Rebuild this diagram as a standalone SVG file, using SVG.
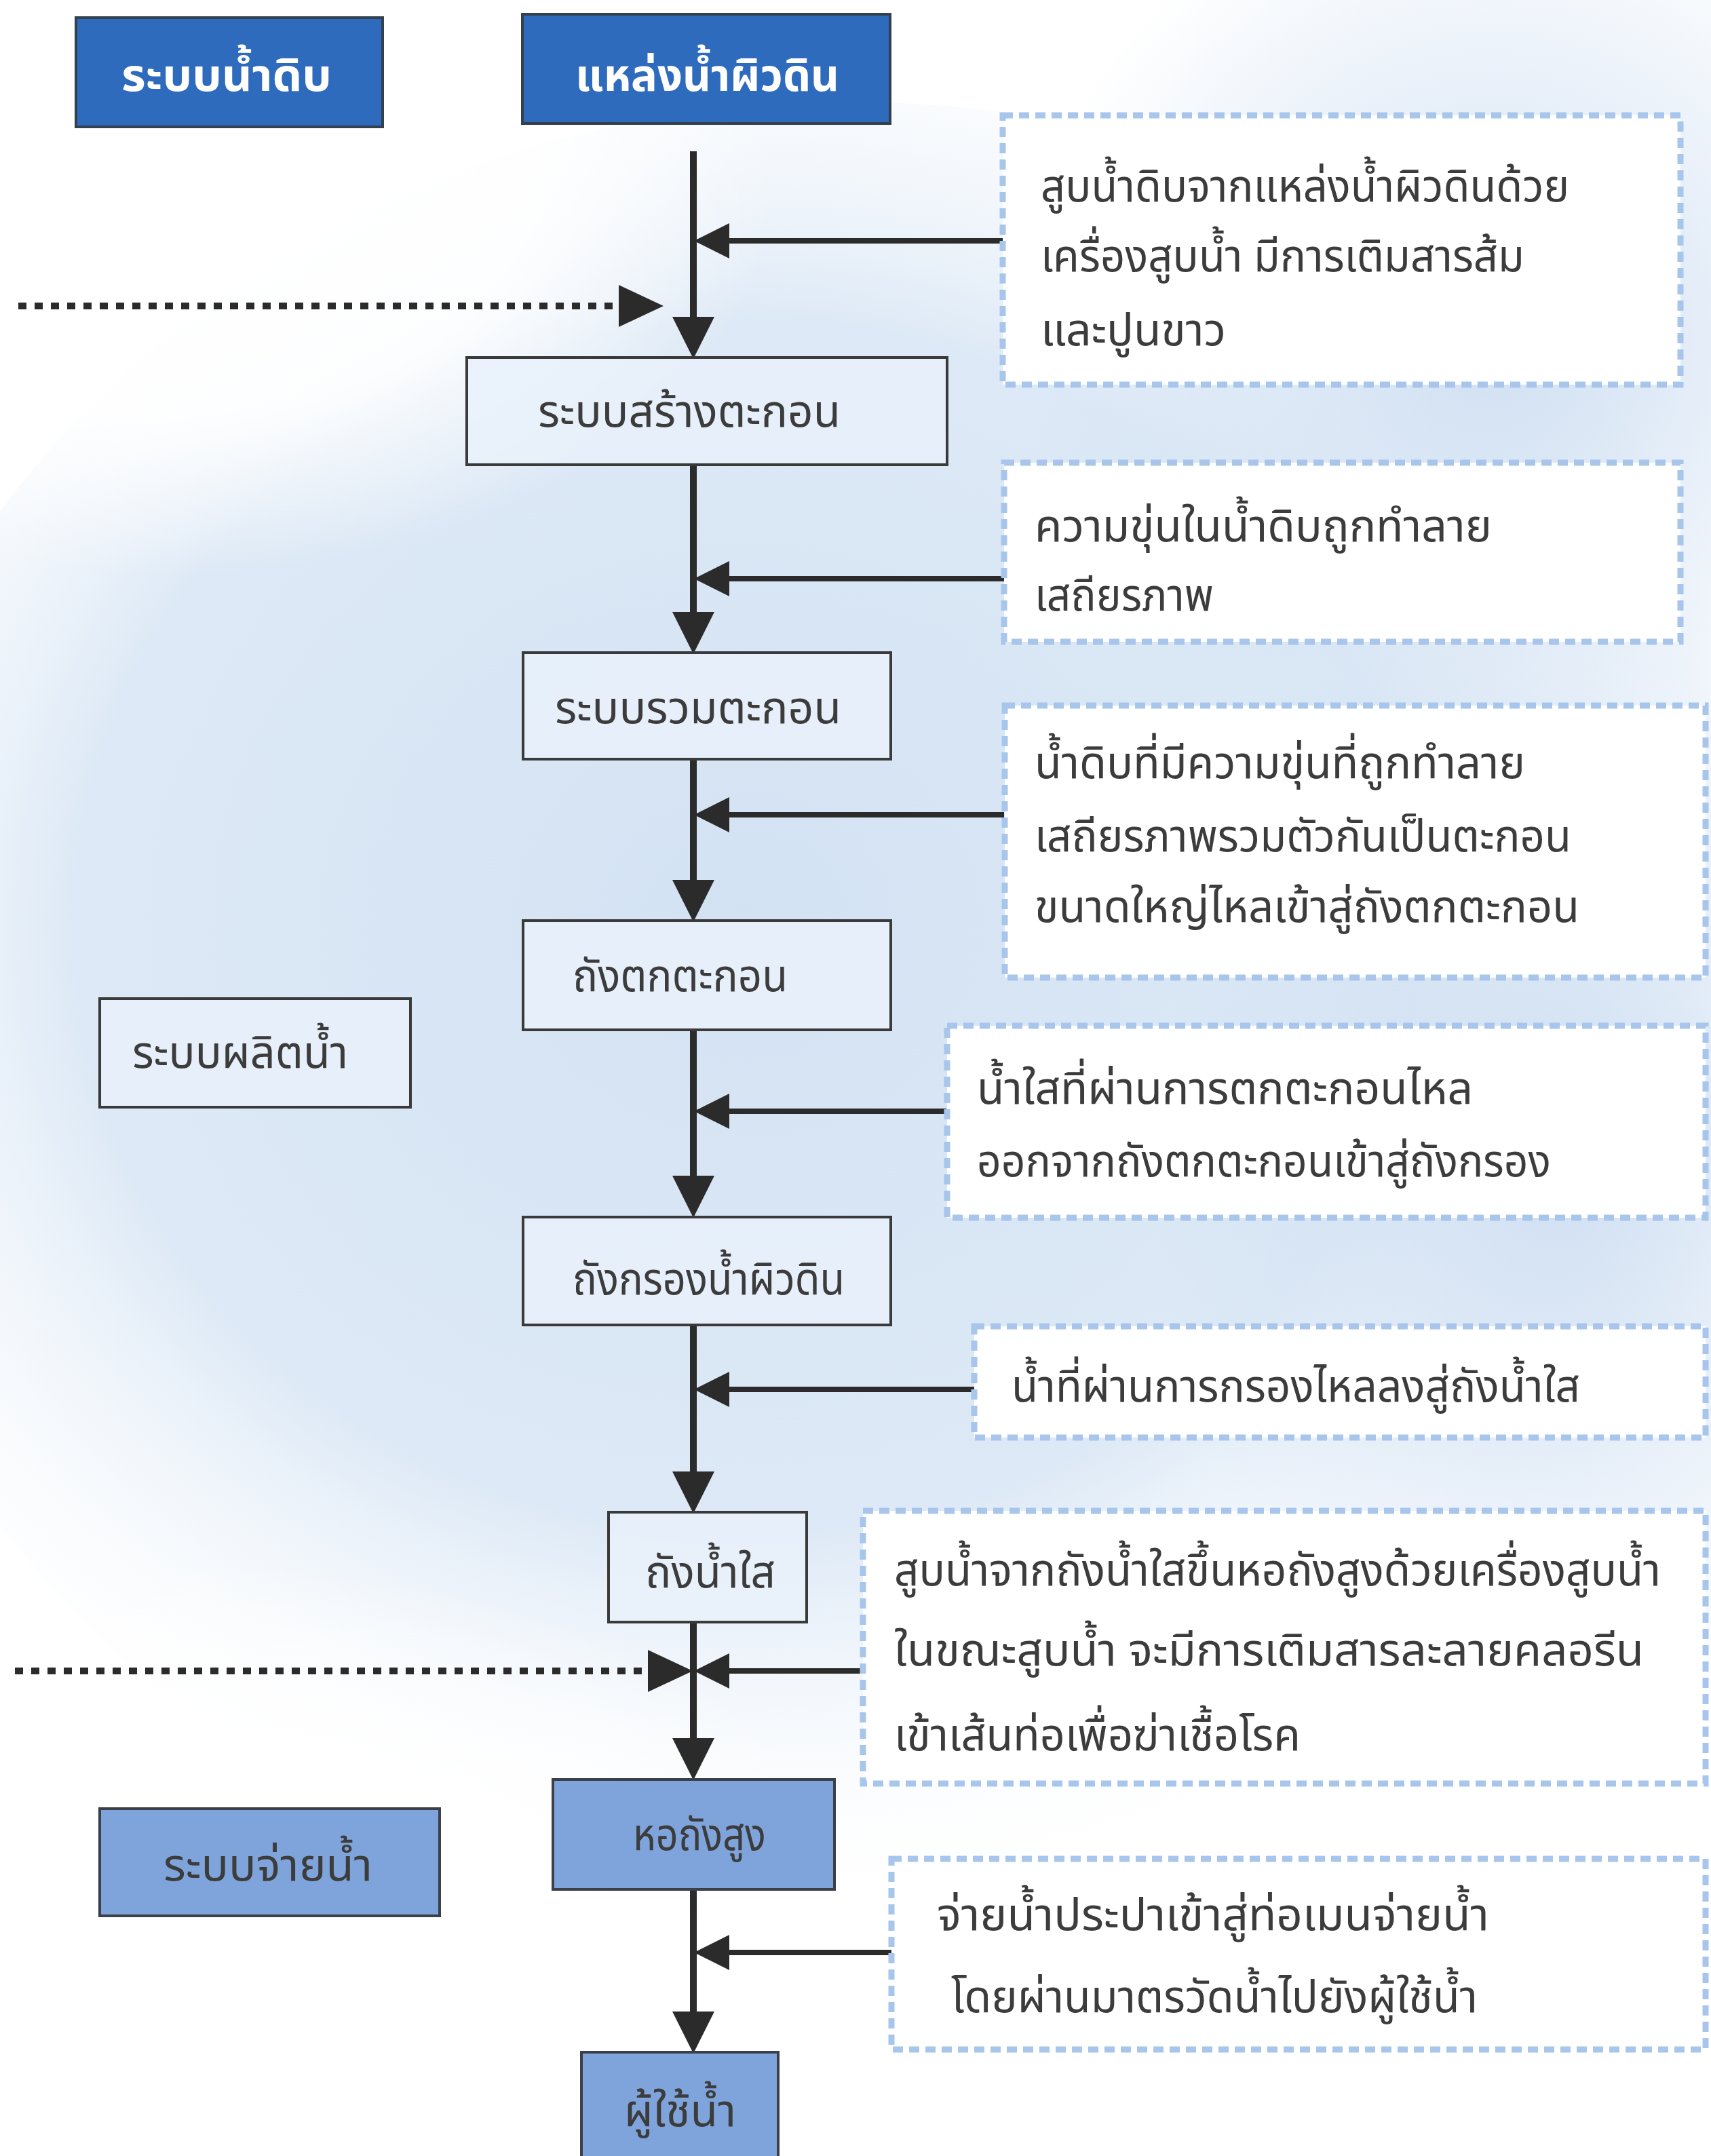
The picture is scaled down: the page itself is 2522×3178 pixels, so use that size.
<svg xmlns="http://www.w3.org/2000/svg" width="2522" height="3178" viewBox="0 0 2522 3178">
<style>
  .t { font-family: "Noto Sans Thai", "Noto Sans", "DejaVu Sans", sans-serif; font-size: 66px; fill: #3c3c3c; }
  .th { font-family: "Noto Sans Thai", "Noto Sans", "DejaVu Sans", sans-serif; font-size: 66px; fill: #ffffff; font-weight: bold; }
  .hdr { fill: #2f6bbd; stroke: #33404f; stroke-width: 4; }
  .mid { fill: #7fa4db; stroke: #3a3f48; stroke-width: 4; }
  .lt { fill: #e9f1fa; fill-opacity: 0.85; stroke: #3a3a3a; stroke-width: 4; }
  .note { fill: #ffffff; stroke: #a8c5ec; stroke-width: 9; stroke-dasharray: 15 9; }
  .main { stroke: #2b2b2b; stroke-width: 10; fill: none; }
  .side { stroke: #2b2b2b; stroke-width: 8; fill: none; }
  .dot { stroke: #2b2b2b; stroke-width: 10; stroke-dasharray: 12 12; fill: none; }
</style>
<defs>
  <radialGradient id="bgA" cx="0.45" cy="0.45" r="0.55">
    <stop offset="0" stop-color="#d3e2f3"/>
    <stop offset="0.6" stop-color="#dde9f6"/>
    <stop offset="1" stop-color="#ffffff" stop-opacity="0"/>
  </radialGradient>
  <radialGradient id="bgB" cx="0.5" cy="0.5" r="0.5">
    <stop offset="0" stop-color="#cfdff2"/>
    <stop offset="1" stop-color="#cfdff2" stop-opacity="0"/>
  </radialGradient>
  <radialGradient id="wh" cx="0.5" cy="0.5" r="0.5">
    <stop offset="0" stop-color="#ffffff"/>
    <stop offset="0.6" stop-color="#ffffff" stop-opacity="0.9"/>
    <stop offset="1" stop-color="#ffffff" stop-opacity="0"/>
  </radialGradient>
  <marker id="down" markerUnits="userSpaceOnUse" markerWidth="62" markerHeight="64" refX="30" refY="31" orient="auto">
    <path d="M0,0 L62,31 L0,62 z" fill="#2b2b2b"/>
  </marker>
  <marker id="left" markerUnits="userSpaceOnUse" markerWidth="54" markerHeight="54" refX="24" refY="26" orient="auto">
    <path d="M0,0 L52,26 L0,52 z" fill="#2b2b2b"/>
  </marker>
  <marker id="dotHead" markerUnits="userSpaceOnUse" markerWidth="68" markerHeight="64" refX="0" refY="31" orient="auto">
    <path d="M0,0 L66,31 L0,62 z" fill="#2b2b2b"/>
  </marker>
</defs>

<g id="background">
  <rect x="0" y="0" width="2522" height="3178" fill="#ffffff"/>
  <ellipse cx="1250" cy="1500" rx="1500" ry="1350" fill="url(#bgA)"/>
  <ellipse cx="2200" cy="500" rx="700" ry="700" fill="url(#bgB)"/>
  <ellipse cx="2300" cy="1700" rx="600" ry="900" fill="url(#bgB)"/>
  <ellipse cx="250" cy="250" rx="900" ry="600" fill="url(#wh)"/>
  <ellipse cx="300" cy="3000" rx="1100" ry="700" fill="url(#wh)"/>
  <ellipse cx="1900" cy="3150" rx="900" ry="300" fill="url(#wh)"/>
</g>

<g id="connectors">
  <line class="main" x1="1022" y1="223" x2="1022" y2="497" marker-end="url(#down)"/>
  <line class="main" x1="1022" y1="685" x2="1022" y2="932" marker-end="url(#down)"/>
  <line class="main" x1="1022" y1="1119" x2="1022" y2="1327" marker-end="url(#down)"/>
  <line class="main" x1="1022" y1="1518" x2="1022" y2="1763" marker-end="url(#down)"/>
  <line class="main" x1="1022" y1="1953" x2="1022" y2="2199" marker-end="url(#down)"/>
  <line class="main" x1="1022" y1="2391" x2="1022" y2="2592" marker-end="url(#down)"/>
  <line class="main" x1="1022" y1="2785" x2="1022" y2="2995" marker-end="url(#down)"/>
  <line class="side" x1="1478" y1="355" x2="1051" y2="355" marker-end="url(#left)"/>
  <line class="side" x1="1480" y1="853" x2="1051" y2="853" marker-end="url(#left)"/>
  <line class="side" x1="1480" y1="1201" x2="1051" y2="1201" marker-end="url(#left)"/>
  <line class="side" x1="1395" y1="1638" x2="1051" y2="1638" marker-end="url(#left)"/>
  <line class="side" x1="1436" y1="2048" x2="1051" y2="2048" marker-end="url(#left)"/>
  <line class="side" x1="1272" y1="2463" x2="1051" y2="2463" marker-end="url(#left)"/>
  <line class="side" x1="1314" y1="2878" x2="1051" y2="2878" marker-end="url(#left)"/>
  <line class="dot" x1="27" y1="451" x2="912" y2="451" marker-end="url(#dotHead)"/>
  <line class="dot" x1="22" y1="2463" x2="955" y2="2463" marker-end="url(#dotHead)"/>
</g>

<g id="raw-water-system">
  <rect class="hdr" x="112" y="26" width="452" height="161"/>
  <text class="th" x="179" y="134" textLength="310" lengthAdjust="spacingAndGlyphs">ระบบน้ำดิบ</text>
</g>
<g id="surface-water-source">
  <rect class="hdr" x="770" y="21" width="542" height="161"/>
  <text class="th" x="848" y="134" textLength="389" lengthAdjust="spacingAndGlyphs">แหล่งน้ำผิวดิน</text>
</g>
<g id="coagulation">
  <rect class="lt" x="688" y="527" width="708" height="158"/>
  <text class="t" x="793" y="629" textLength="446" lengthAdjust="spacingAndGlyphs">ระบบสร้างตะกอน</text>
</g>
<g id="flocculation">
  <rect class="lt" x="771" y="962" width="542" height="157"/>
  <text class="t" x="818" y="1066" textLength="422" lengthAdjust="spacingAndGlyphs">ระบบรวมตะกอน</text>
</g>
<g id="sedimentation-tank">
  <rect class="lt" x="771" y="1357" width="542" height="161"/>
  <text class="t" x="844" y="1461" textLength="317" lengthAdjust="spacingAndGlyphs">ถังตกตะกอน</text>
</g>
<g id="water-production-system">
  <rect class="lt" x="147" y="1472" width="458" height="160"/>
  <text class="t" x="195" y="1574" textLength="318" lengthAdjust="spacingAndGlyphs">ระบบผลิตน้ำ</text>
</g>
<g id="filter-tank">
  <rect class="lt" x="771" y="1794" width="542" height="159"/>
  <text class="t" x="844" y="1908" textLength="401" lengthAdjust="spacingAndGlyphs">ถังกรองน้ำผิวดิน</text>
</g>
<g id="clear-water-tank">
  <rect class="lt" x="897" y="2229" width="292" height="162"/>
  <text class="t" x="951" y="2340" textLength="192" lengthAdjust="spacingAndGlyphs">ถังน้ำใส</text>
</g>
<g id="elevated-tank">
  <rect class="mid" x="815" y="2623" width="415" height="162"/>
  <text class="t" x="933" y="2727" textLength="196" lengthAdjust="spacingAndGlyphs">หอถังสูง</text>
</g>
<g id="distribution-system">
  <rect class="mid" x="147" y="2666" width="501" height="158"/>
  <text class="t" x="241" y="2772" textLength="308" lengthAdjust="spacingAndGlyphs">ระบบจ่ายน้ำ</text>
</g>
<g id="water-users">
  <rect class="mid" x="857" y="3025" width="290" height="170"/>
  <text class="t" x="920" y="3134" textLength="165" lengthAdjust="spacingAndGlyphs">ผู้ใช้น้ำ</text>
</g>

<g id="note-pump-raw">
  <rect class="note" x="1478" y="170" width="999" height="397"/>
  <text class="t" x="1534" y="297" textLength="779" lengthAdjust="spacingAndGlyphs">สูบน้ำดิบจากแหล่งน้ำผิวดินด้วย</text>
  <text class="t" x="1534" y="400" textLength="713" lengthAdjust="spacingAndGlyphs">เครื่องสูบน้ำ มีการเติมสารส้ม</text>
  <text class="t" x="1534" y="509" textLength="273" lengthAdjust="spacingAndGlyphs">และปูนขาว</text>
</g>
<g id="note-destabilize">
  <rect class="note" x="1480" y="682" width="997" height="264"/>
  <text class="t" x="1525" y="798" textLength="674" lengthAdjust="spacingAndGlyphs">ความขุ่นในน้ำดิบถูกทำลาย</text>
  <text class="t" x="1525" y="900" textLength="264" lengthAdjust="spacingAndGlyphs">เสถียรภาพ</text>
</g>
<g id="note-floc">
  <rect class="note" x="1481" y="1040" width="1033" height="401"/>
  <text class="t" x="1525" y="1147" textLength="723" lengthAdjust="spacingAndGlyphs">น้ำดิบที่มีความขุ่นที่ถูกทำลาย</text>
  <text class="t" x="1525" y="1255" textLength="791" lengthAdjust="spacingAndGlyphs">เสถียรภาพรวมตัวกันเป็นตะกอน</text>
  <text class="t" x="1525" y="1359" textLength="803" lengthAdjust="spacingAndGlyphs">ขนาดใหญ่ไหลเข้าสู่ถังตกตะกอน</text>
</g>
<g id="note-settled">
  <rect class="note" x="1396" y="1512" width="1118" height="283"/>
  <text class="t" x="1440" y="1627" textLength="731" lengthAdjust="spacingAndGlyphs">น้ำใสที่ผ่านการตกตะกอนไหล</text>
  <text class="t" x="1440" y="1734" textLength="846" lengthAdjust="spacingAndGlyphs">ออกจากถังตกตะกอนเข้าสู่ถังกรอง</text>
</g>
<g id="note-filtered">
  <rect class="note" x="1436" y="1955" width="1078" height="164"/>
  <text class="t" x="1491" y="2066" textLength="838" lengthAdjust="spacingAndGlyphs">น้ำที่ผ่านการกรองไหลลงสู่ถังน้ำใส</text>
</g>
<g id="note-chlorine">
  <rect class="note" x="1272" y="2227" width="1242" height="402"/>
  <text class="t" x="1318" y="2337" textLength="1130" lengthAdjust="spacingAndGlyphs">สูบน้ำจากถังน้ำใสขึ้นหอถังสูงด้วยเครื่องสูบน้ำ</text>
  <text class="t" x="1318" y="2455" textLength="1105" lengthAdjust="spacingAndGlyphs">ในขณะสูบน้ำ จะมีการเติมสารละลายคลอรีน</text>
  <text class="t" x="1318" y="2580" textLength="599" lengthAdjust="spacingAndGlyphs">เข้าเส้นท่อเพื่อฆ่าเชื้อโรค</text>
</g>
<g id="note-distribution">
  <rect class="note" x="1314" y="2740" width="1200" height="281"/>
  <text class="t" x="1381" y="2845" textLength="814" lengthAdjust="spacingAndGlyphs">จ่ายน้ำประปาเข้าสู่ท่อเมนจ่ายน้ำ</text>
  <text class="t" x="1402" y="2966" textLength="776" lengthAdjust="spacingAndGlyphs">โดยผ่านมาตรวัดน้ำไปยังผู้ใช้น้ำ</text>
</g>
</svg>
